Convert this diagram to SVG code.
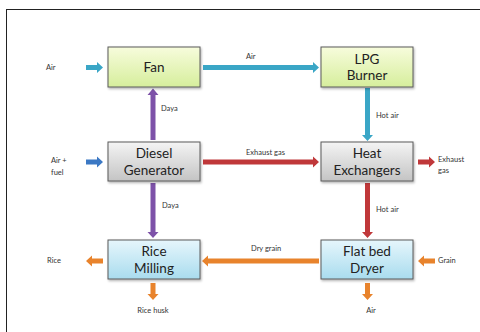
<svg xmlns="http://www.w3.org/2000/svg" width="480" height="332" viewBox="0 0 480 332">
<defs>
<linearGradient id="gGreen" x1="0" y1="0" x2="0" y2="1"><stop offset="0" stop-color="#f7fcdc"/><stop offset="1" stop-color="#d6ee9c"/></linearGradient>
<linearGradient id="gGrey" x1="0" y1="0" x2="0" y2="1"><stop offset="0" stop-color="#f4f4f4"/><stop offset="1" stop-color="#c4c4c4"/></linearGradient>
<linearGradient id="gBlue" x1="0" y1="0" x2="0" y2="1"><stop offset="0" stop-color="#e6f6fc"/><stop offset="1" stop-color="#a9dcee"/></linearGradient>
<filter id="sh" x="-10%" y="-10%" width="130%" height="140%"><feDropShadow dx="1" dy="1.5" stdDeviation="1.2" flood-color="#000" flood-opacity="0.3"/></filter>
</defs>
<style>
.box{stroke:#5a5a5a;stroke-width:1;filter:url(#sh)}
.bt{font-family:Lato,"Liberation Sans",sans-serif;font-size:13.5px;fill:#222;text-anchor:middle}
.lb{font-family:Lato,"Liberation Sans",sans-serif;font-size:7.5px;fill:#333}
.teal{fill:#3aa6c6}
.purple{fill:#7d52a8}
.red{fill:#c0383a}
.orange{fill:#e8832c}
.blue{fill:#3b78c4}
</style>
<rect x="6.5" y="9.5" width="480" height="330" fill="#fff" stroke="#222" stroke-width="1"/>
<g id="connectors">
<polygon class="teal" points="86,65 97,65 97,62 103,67.5 97,73 97,70 86,70"/>
<polygon class="teal" points="203,65 313,65 313,62 319,67.5 313,73 313,70 203,70"/>
<polygon class="purple" points="150.5,140 150.5,95 147.5,95 153,88.5 158.5,95 155.5,95 155.5,140"/>
<polygon class="teal" points="365,88 370,88 370,135 373,135 367.5,141 362,135 365,135"/>
<polygon class="blue" points="86,159.5 97,159.5 97,156.5 103,162 97,167.5 97,164.5 86,164.5"/>
<polygon class="red" points="203,159.5 313,159.5 313,156.5 319,162 313,167.5 313,164.5 203,164.5"/>
<polygon class="red" points="418,159.5 429,159.5 429,156.5 435,162 429,167.5 429,164.5 418,164.5"/>
<polygon class="purple" points="150.5,183 155.5,183 155.5,232 158.5,232 153,238 147.5,232 150.5,232"/>
<polygon class="red" points="365,183 370,183 370,232 373,232 367.5,238 362,232 365,232"/>
<polygon class="orange" points="319,258.5 208,258.5 208,255.5 202,261 208,266.5 208,263.5 319,263.5"/>
<polygon class="orange" points="103,258.5 92,258.5 92,255.5 86,261 92,266.5 92,263.5 103,263.5"/>
<polygon class="orange" points="435,258.5 424,258.5 424,255.5 418,261 424,266.5 424,263.5 435,263.5"/>
<polygon class="orange" points="150.5,283 155.5,283 155.5,294 158.5,294 153,300 147.5,294 150.5,294"/>
<polygon class="orange" points="365,283 370,283 370,294 373,294 367.5,300 362,294 365,294"/>
<text class="lb" x="46" y="70">Air</text>
<text class="lb" x="246" y="59">Air</text>
<text class="lb" x="161" y="111">Daya</text>
<text class="lb" x="376" y="118">Hot air</text>
<text class="lb" x="51" y="163">Air +</text>
<text class="lb" x="51" y="175">fuel</text>
<text class="lb" x="246" y="155">Exhaust gas</text>
<text class="lb" x="438" y="162">Exhaust</text>
<text class="lb" x="438" y="173">gas</text>
<text class="lb" x="162" y="208">Daya</text>
<text class="lb" x="376" y="212">Hot air</text>
<text class="lb" x="251" y="251">Dry grain</text>
<text class="lb" x="47" y="263">Rice</text>
<text class="lb" x="438" y="263">Grain</text>
<text class="lb" x="153" y="313" text-anchor="middle">Rice husk</text>
<text class="lb" x="371" y="313" text-anchor="middle">Air</text>
</g>
<g id="fan"><rect class="box" x="108" y="47" width="92" height="40" fill="url(#gGreen)"/><text class="bt" x="154" y="72">Fan</text></g>
<g id="lpg"><rect class="box" x="321" y="47" width="92" height="40" fill="url(#gGreen)"/><text class="bt" x="367" y="64">LPG</text><text class="bt" x="367" y="80">Burner</text></g>
<g id="diesel"><rect class="box" x="108" y="142" width="92" height="39" fill="url(#gGrey)"/><text class="bt" x="154" y="158">Diesel</text><text class="bt" x="154" y="175">Generator</text></g>
<g id="heat"><rect class="box" x="321" y="142" width="92" height="39" fill="url(#gGrey)"/><text class="bt" x="367" y="158">Heat</text><text class="bt" x="367" y="175">Exchangers</text></g>
<g id="rice"><rect class="box" x="108" y="240" width="92" height="39" fill="url(#gBlue)"/><text class="bt" x="154" y="256">Rice</text><text class="bt" x="154" y="273">Milling</text></g>
<g id="dryer"><rect class="box" x="321" y="240" width="92" height="39" fill="url(#gBlue)"/><text class="bt" x="367" y="256">Flat bed</text><text class="bt" x="367" y="273">Dryer</text></g>
</svg>
